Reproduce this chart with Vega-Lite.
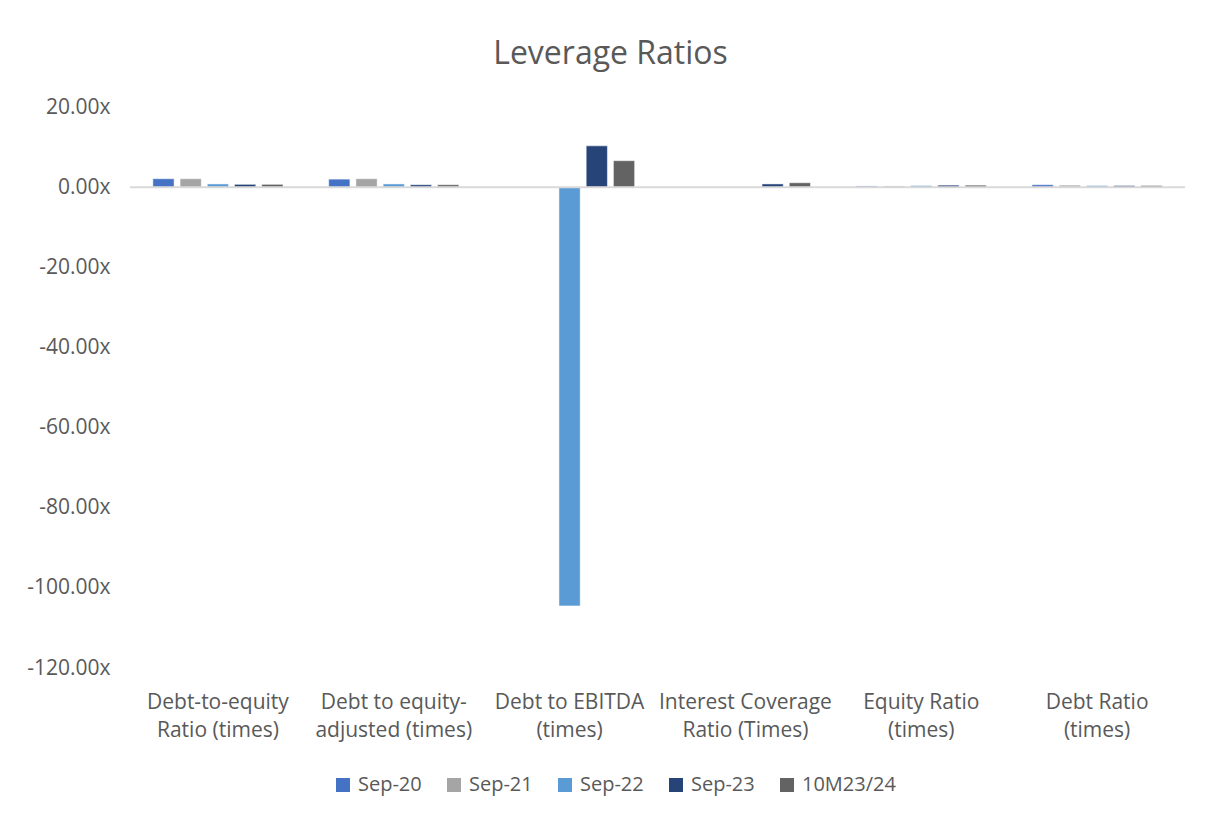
{
  "$schema": "https://vega.github.io/schema/vega-lite/v6.json",
  "width": 1055,
  "height": 561,
  "autosize": {"type": "none"},
  "padding": {"left": 130, "top": 107, "right": 25, "bottom": 149},
  "background": "white",
  "title": {
    "text": "Leverage Ratios",
    "fontSize": 32,
    "font": "Open Sans",
    "fontWeight": "normal",
    "color": "#595959",
    "anchor": "middle",
    "dx": -47,
    "offset": 25
  },
  "config": {
    "font": "Open Sans",
    "view": {"stroke": null}
  },
  "datasets": {
    "ratios": [
      {"metric": "Debt-to-equity Ratio (times)", "period": "Sep-20", "value": 2.1},
      {"metric": "Debt-to-equity Ratio (times)", "period": "Sep-21", "value": 2.1},
      {"metric": "Debt-to-equity Ratio (times)", "period": "Sep-22", "value": 0.8},
      {"metric": "Debt-to-equity Ratio (times)", "period": "Sep-23", "value": 0.7},
      {"metric": "Debt-to-equity Ratio (times)", "period": "10M23/24", "value": 0.7},
      {"metric": "Debt to equity-adjusted (times)", "period": "Sep-20", "value": 2.0},
      {"metric": "Debt to equity-adjusted (times)", "period": "Sep-21", "value": 2.1},
      {"metric": "Debt to equity-adjusted (times)", "period": "Sep-22", "value": 0.8},
      {"metric": "Debt to equity-adjusted (times)", "period": "Sep-23", "value": 0.6},
      {"metric": "Debt to equity-adjusted (times)", "period": "10M23/24", "value": 0.6},
      {"metric": "Debt to EBITDA (times)", "period": "Sep-20", "value": 0},
      {"metric": "Debt to EBITDA (times)", "period": "Sep-21", "value": 0},
      {"metric": "Debt to EBITDA (times)", "period": "Sep-22", "value": -104.5},
      {"metric": "Debt to EBITDA (times)", "period": "Sep-23", "value": 10.3},
      {"metric": "Debt to EBITDA (times)", "period": "10M23/24", "value": 6.6},
      {"metric": "Interest Coverage Ratio (Times)", "period": "Sep-20", "value": 0},
      {"metric": "Interest Coverage Ratio (Times)", "period": "Sep-21", "value": 0},
      {"metric": "Interest Coverage Ratio (Times)", "period": "Sep-22", "value": 0},
      {"metric": "Interest Coverage Ratio (Times)", "period": "Sep-23", "value": 0.8},
      {"metric": "Interest Coverage Ratio (Times)", "period": "10M23/24", "value": 1.1},
      {"metric": "Equity Ratio (times)", "period": "Sep-20", "value": 0.3},
      {"metric": "Equity Ratio (times)", "period": "Sep-21", "value": 0.3},
      {"metric": "Equity Ratio (times)", "period": "Sep-22", "value": 0.4},
      {"metric": "Equity Ratio (times)", "period": "Sep-23", "value": 0.5},
      {"metric": "Equity Ratio (times)", "period": "10M23/24", "value": 0.5},
      {"metric": "Debt Ratio (times)", "period": "Sep-20", "value": 0.6},
      {"metric": "Debt Ratio (times)", "period": "Sep-21", "value": 0.5},
      {"metric": "Debt Ratio (times)", "period": "Sep-22", "value": 0.4},
      {"metric": "Debt Ratio (times)", "period": "Sep-23", "value": 0.4},
      {"metric": "Debt Ratio (times)", "period": "10M23/24", "value": 0.4}
    ]
  },
  "layer": [
    {
      "data": {"name": "ratios"},
      "mark": {"type": "bar", "stroke": "white", "strokeWidth": 0.5},
      "encoding": {
        "x": {
          "field": "metric",
          "type": "nominal",
          "sort": null,
          "scale": {"paddingInner": 0.26, "paddingOuter": 0.13},
          "axis": {
            "title": null,
            "labelAngle": 0,
            "domain": false,
            "ticks": false,
            "labelPadding": 23,
            "labelFontSize": 21,
            "labelColor": "#595959",
            "labelLineHeight": 28,
            "labelBaseline": "top",
            "labelExpr": "datum.label == 'Debt-to-equity Ratio (times)' ? ['Debt-to-equity', 'Ratio (times)'] : datum.label == 'Debt to equity-adjusted (times)' ? ['Debt to equity-', 'adjusted (times)'] : datum.label == 'Debt to EBITDA (times)' ? ['Debt to EBITDA', '(times)'] : datum.label == 'Interest Coverage Ratio (Times)' ? ['Interest Coverage', 'Ratio (Times)'] : datum.label == 'Equity Ratio (times)' ? ['Equity Ratio', '(times)'] : ['Debt Ratio', '(times)']"
          }
        },
        "xOffset": {
          "field": "period",
          "type": "nominal",
          "sort": ["Sep-20", "Sep-21", "Sep-22", "Sep-23", "10M23/24"],
          "scale": {"paddingInner": 0.22}
        },
        "y": {
          "field": "value",
          "type": "quantitative",
          "scale": {"domain": [-120, 20], "nice": false},
          "axis": {
            "title": null,
            "values": [20, 0, -20, -40, -60, -80, -100, -120],
            "grid": false,
            "domain": false,
            "ticks": false,
            "labelPadding": 20,
            "labelFontSize": 21,
            "labelColor": "#595959",
            "labelExpr": "(datum.value < 0 ? '-' : '') + format(abs(datum.value), '.2f') + 'x'"
          }
        },
        "color": {
          "field": "period",
          "type": "nominal",
          "sort": ["Sep-20", "Sep-21", "Sep-22", "Sep-23", "10M23/24"],
          "scale": {
            "domain": ["Sep-20", "Sep-21", "Sep-22", "Sep-23", "10M23/24"],
            "range": ["#4472C4", "#A5A5A5", "#5B9BD5", "#264478", "#636363"]
          },
          "legend": {
            "title": null,
            "orient": "none",
            "direction": "horizontal",
            "legendX": 203,
            "legendY": 668,
            "symbolType": "square",
            "symbolSize": 196,
            "symbolStrokeWidth": 0,
            "labelFontSize": 20,
            "labelColor": "#595959",
            "columnPadding": 22,
            "labelOffset": 5
          }
        }
      }
    },
    {
      "data": {"values": [{"zero": 0}]},
      "mark": {"type": "rule", "color": "#D9D9D9", "strokeWidth": 2},
      "encoding": {
        "y": {"field": "zero", "type": "quantitative"}
      }
    }
  ]
}
